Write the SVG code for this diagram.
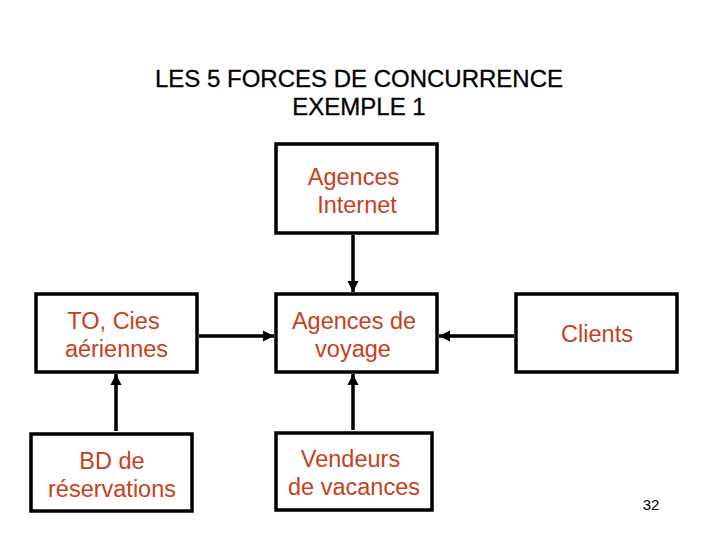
<svg xmlns="http://www.w3.org/2000/svg" width="720" height="540" viewBox="0 0 720 540">
<style>
.box{fill:#fff;stroke:#000;stroke-width:3.5}
.lbl{font-family:"Liberation Sans",Arial,sans-serif;font-size:23.5px;fill:#c8401c;text-anchor:middle}
.ttl{font-family:"Liberation Sans",Arial,sans-serif;font-size:24px;fill:#000;text-anchor:middle;stroke:#000;stroke-width:0.3}
.conn{stroke:#000;stroke-width:3.5;fill:none;marker-end:url(#ah)}
</style>
<defs>
<marker id="ah" viewBox="0 0 10 10" refX="10" refY="5" markerWidth="3.2" markerHeight="3.2" markerUnits="strokeWidth" orient="auto">
<path d="M0,0 L10,5 L0,10 z" fill="#000"/>
</marker>
</defs>
<rect width="720" height="540" fill="#fff"/>
<g id="title">
<text class="ttl" x="359" y="87">LES 5 FORCES DE CONCURRENCE</text>
<text class="ttl" x="359" y="115">EXEMPLE 1</text>
</g>
<g id="connectors">
<line class="conn" x1="353" y1="235" x2="353" y2="292"/>
<line class="conn" x1="199" y1="336" x2="274" y2="336"/>
<line class="conn" x1="514" y1="336" x2="439" y2="336"/>
<line class="conn" x1="116" y1="431" x2="116" y2="374"/>
<line class="conn" x1="353" y1="430" x2="353" y2="374"/>
</g>
<g id="internet">
<rect class="box" x="276" y="144" width="161" height="89"/>
<text class="lbl" x="353.5" y="185">Agences</text>
<text class="lbl" x="357" y="213">Internet</text>
</g>
<g id="to">
<rect class="box" x="36" y="294" width="161" height="78"/>
<text class="lbl" x="113.5" y="329">TO, Cies</text>
<text class="lbl" x="116.5" y="357">aériennes</text>
</g>
<g id="voyage">
<rect class="box" x="276" y="294" width="161" height="78"/>
<text class="lbl" x="354" y="329">Agences de</text>
<text class="lbl" x="353" y="357">voyage</text>
</g>
<g id="clients">
<rect class="box" x="516" y="294" width="161" height="78"/>
<text class="lbl" x="597" y="342">Clients</text>
</g>
<g id="bd">
<rect class="box" x="31" y="434" width="161" height="77"/>
<text class="lbl" x="112" y="469">BD de</text>
<text class="lbl" x="112" y="497">réservations</text>
</g>
<g id="vendeurs">
<rect class="box" x="276" y="433" width="156" height="77"/>
<text class="lbl" x="350.5" y="467">Vendeurs</text>
<text class="lbl" x="354" y="495">de vacances</text>
</g>
<text x="651" y="510" font-family="Liberation Sans,Arial,sans-serif" font-size="15" fill="#000" text-anchor="middle">32</text>
</svg>
